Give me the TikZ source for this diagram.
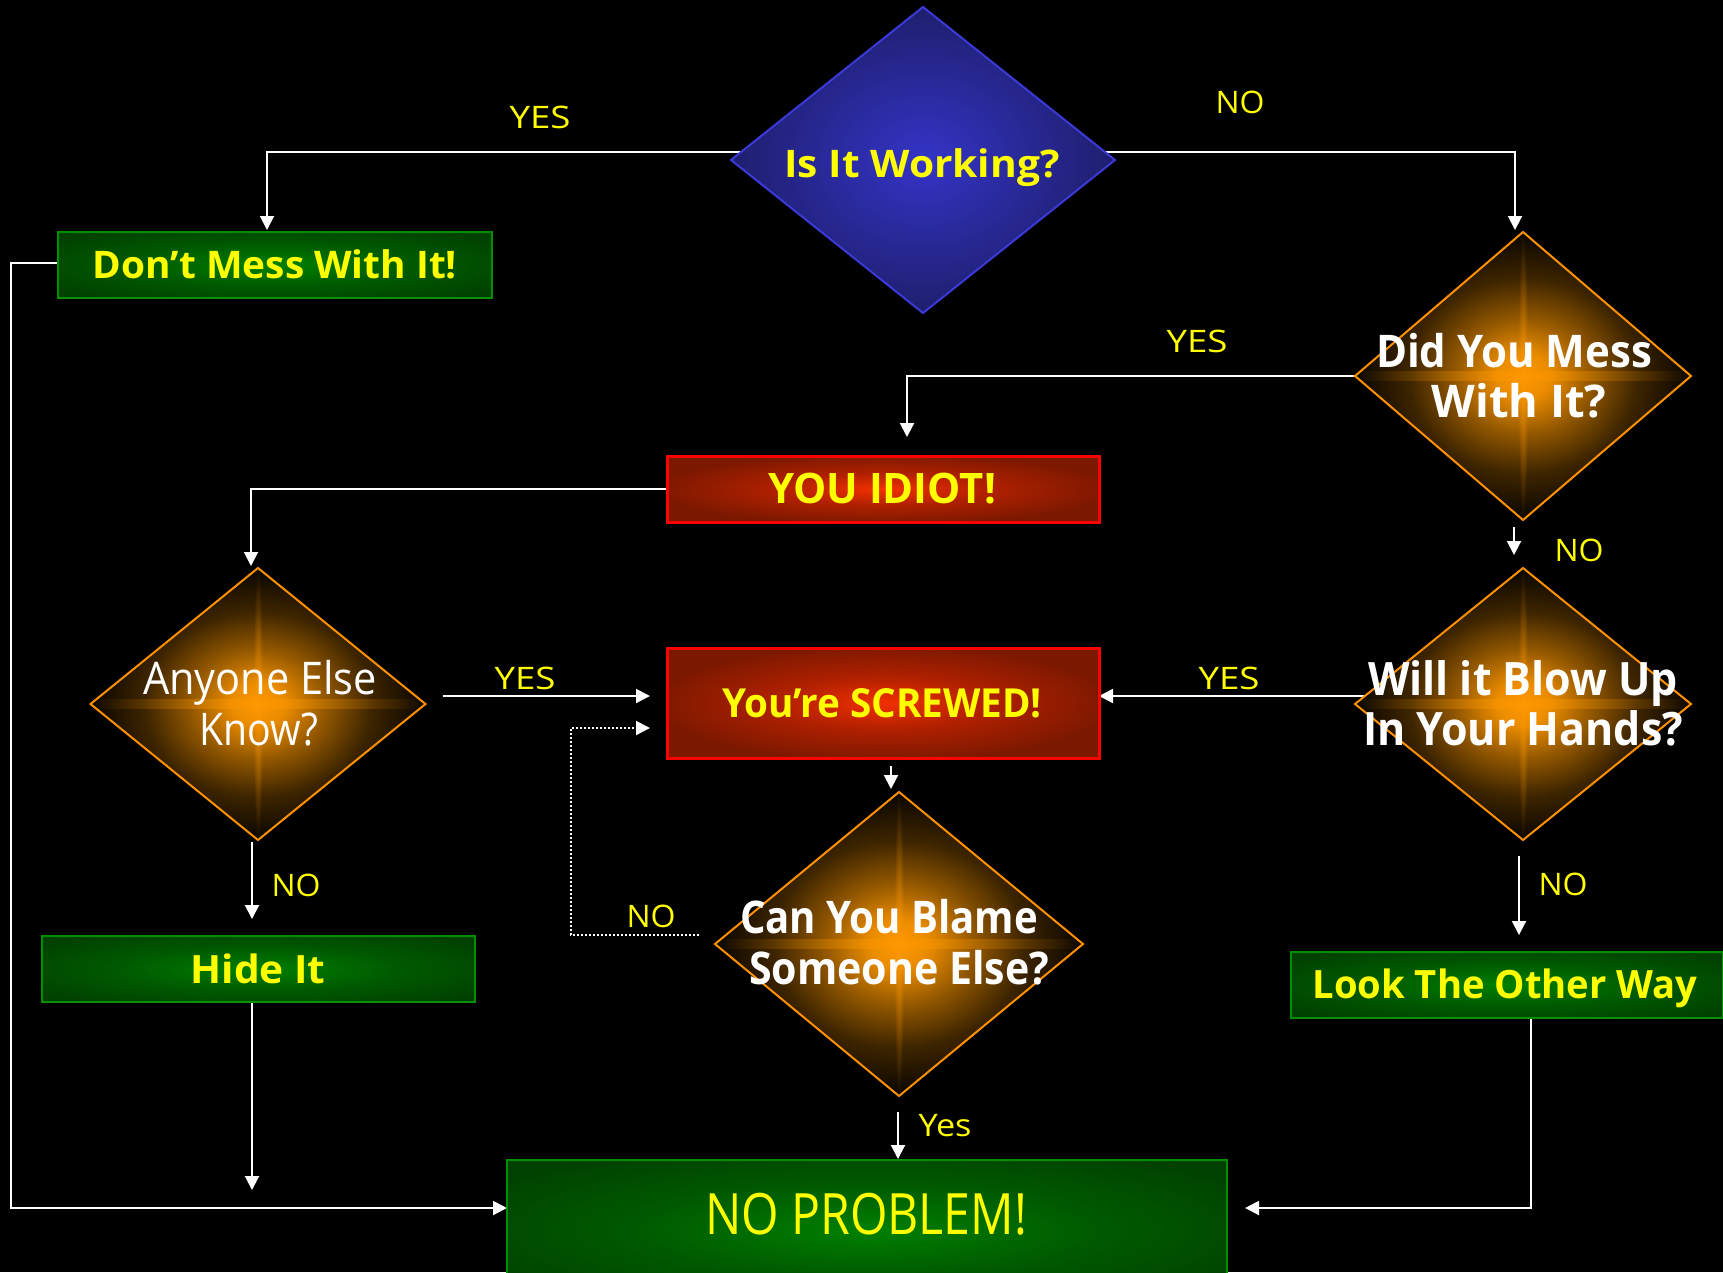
\documentclass[tikz,border=0pt]{standalone}
\usepackage{fontspec}
\setmainfont{Open Sans}
\usepackage{graphicx}
\usetikzlibrary{shapes.geometric,arrows.meta,calc,fadings}
\pgfdeclarelayer{bg}
\pgfdeclarelayer{edges}
\pgfsetlayers{bg,edges,main}
\definecolor{txtY}{HTML}{FFFF00}
\definecolor{orgC}{HTML}{FF9800}
\definecolor{orgB}{HTML}{FF9000}
\definecolor{blueC}{HTML}{3434C8}
\definecolor{blueE}{HTML}{1C1C62}
\definecolor{blueB}{HTML}{3A3AD8}
\definecolor{grnC}{HTML}{008000}
\definecolor{grnM}{HTML}{005A00}
\definecolor{grnE}{HTML}{004000}
\definecolor{grnB}{HTML}{009000}
\definecolor{redC}{HTML}{F23000}
\definecolor{redM}{HTML}{B02000}
\definecolor{redE}{HTML}{7A1800}
\pgfdeclareradialshading{orangeglow}{\pgfpoint{0bp}{0bp}}{color(0bp)=(orgC); color(4bp)=(orgC!92!black); color(10bp)=(orgC!58!black); color(17bp)=(orgC!24!black); color(24bp)=(orgC!6!black); color(29bp)=(black); color(50bp)=(black)}
\pgfdeclareradialshading{blueglow}{\pgfpoint{0bp}{0bp}}{color(0bp)=(blueC); color(28bp)=(blueE); color(50bp)=(blueE)}
\pgfdeclareradialshading{greenglow}{\pgfpoint{0bp}{0bp}}{color(0bp)=(grnC); color(16bp)=(grnM); color(32bp)=(grnE); color(50bp)=(grnE)}
\pgfdeclareradialshading{redglow}{\pgfpoint{0bp}{0bp}}{color(0bp)=(redC); color(12bp)=(redM); color(27bp)=(redE); color(50bp)=(redE)}
\tikzfading[name=glowfade, inner color=transparent!50, outer color=transparent!100]
\newcommand{\fitw}[2]{\resizebox{#1}{\height}{#2}}
\newcommand{\myfs}[1]{\fontsize{#1}{#1}\selectfont}
\tikzset{
  odiam/.style={diamond, draw=orgB, line width=2pt, inner sep=0pt, outer sep=0pt, shade, shading=orangeglow,
    path picture={
      \fill[orgC, path fading=glowfade] ($(path picture bounding box.west)+(0,-5)$) rectangle ($(path picture bounding box.east)+(0,5)$);
      \fill[orgC, path fading=glowfade] ($(path picture bounding box.north)+(-5,0)$) rectangle ($(path picture bounding box.south)+(5,0)$);
    }},
  bdiam/.style={diamond, draw=blueB, line width=2pt, inner sep=0pt, outer sep=0pt, shade, shading=blueglow},
  gbox/.style={rectangle, draw=grnB, line width=2pt, inner sep=0pt, outer sep=0pt, shade, shading=greenglow},
  rbox/.style={rectangle, draw=red, line width=3pt, inner sep=0pt, outer sep=0pt, shade, shading=redglow},
  ytext/.style={text=txtY, anchor=base, inner sep=0pt, outer sep=0pt},
  wtext/.style={text=white, anchor=base, inner sep=0pt, outer sep=0pt},
  lab/.style={text=txtY, anchor=base, inner sep=0pt, outer sep=0pt, font=\myfs{31}},
  arr/.style={draw=white, line width=2pt, -{Triangle[length=14pt,width=14pt]}},
  dotarr/.style={draw=white, line width=2pt, dash pattern=on 2pt off 2pt, -{Triangle[length=14pt,width=14pt]}}
}
\begin{document}
\begin{tikzpicture}[x=1pt,y=-1pt]
\useasboundingbox (0,0) rectangle (1723,1272);
\begin{pgfonlayer}{bg}
\fill[black] (0,0) rectangle (1723,1272);
\end{pgfonlayer}

% shapes
\node[bdiam, minimum width=384pt, minimum height=306pt] (work) at (923,160) {};
\node[odiam, minimum width=336pt, minimum height=288pt] (dym) at (1523,376) {};
\node[odiam, minimum width=336pt, minimum height=272pt] (blow) at (1523,704) {};
\node[odiam, minimum width=335pt, minimum height=272pt] (anyone) at (258,704) {};
\node[odiam, minimum width=368pt, minimum height=304pt] (blame) at (899,944) {};
\node[gbox, minimum width=434pt, minimum height=66pt] (dont) at (275,265) {};
\node[rbox, minimum width=432pt, minimum height=66pt] (idiot) at (883,489) {};
\node[rbox, minimum width=432pt, minimum height=110pt] (screwed) at (883,703) {};
\node[gbox, minimum width=433pt, minimum height=66pt] (hide) at (258,969) {};
\node[gbox, minimum width=432pt, minimum height=66pt] (look) at (1507,985) {};
\node[gbox, minimum width=720pt, minimum height=140pt] (noprob) at (867,1230) {};

% texts
\node[ytext, font=\myfs{38}\bfseries] (t-work) at (922,177) {\fitw{275pt}{Is It Working?}};
\node[ytext, font=\myfs{38}\bfseries] (t-dont) at (275,278) {\fitw{364pt}{Don't Mess With It!}};
\node[wtext, font=\myfs{45}\bfseries] (t-dym1) at (1514,367) {\fitw{276pt}{Did You Mess}};
\node[wtext, font=\myfs{45}\bfseries] (t-dym2) at (1519,417) {\fitw{175pt}{With It?}};
\node[ytext, font=\myfs{42}\bfseries] (t-idiot) at (882,503) {\fitw{228pt}{YOU IDIOT!}};
\node[ytext, font=\myfs{40}\bfseries] (t-screwed) at (882,717) {\fitw{320pt}{You're SCREWED!}};
\node[wtext, font=\myfs{45}\bfseries] (t-blame1) at (889,933) {\fitw{298pt}{Can You Blame}};
\node[wtext, font=\myfs{45}\bfseries] (t-blame2) at (899,984) {\fitw{300pt}{Someone Else?}};
\node[wtext, font=\myfs{46}\bfseries] (t-blow1) at (1523,695) {\fitw{310pt}{Will it Blow Up}};
\node[wtext, font=\myfs{46}\bfseries] (t-blow2) at (1523,745) {\fitw{320pt}{In Your Hands?}};
\node[wtext, font=\myfs{45}] (t-any1) at (260,694) {\fitw{234pt}{Anyone Else}};
\node[wtext, font=\myfs{45}] (t-any2) at (259,745) {\fitw{119pt}{Know?}};
\node[ytext, font=\myfs{39}\bfseries] (t-hide) at (258,983) {\fitw{135pt}{Hide It}};
\node[ytext, font=\myfs{39}\bfseries] (t-look) at (1505,998) {\fitw{385pt}{Look The Other Way}};
\node[ytext, font=\myfs{57}] (t-noprob) at (866,1234) {\fitw{322pt}{NO PROBLEM!}};

% labels
\node[lab] (l1) at (540,128) {\fitw{61pt}{YES}};
\node[lab] (l2) at (1240,113) {\fitw{49pt}{NO}};
\node[lab] (l3) at (1197,352) {\fitw{61pt}{YES}};
\node[lab] (l4) at (1579,561) {\fitw{49pt}{NO}};
\node[lab] (l5) at (525,689) {\fitw{61pt}{YES}};
\node[lab] (l6) at (1229,689) {\fitw{61pt}{YES}};
\node[lab] (l7) at (296,896) {\fitw{49pt}{NO}};
\node[lab] (l8) at (1563,895) {\fitw{49pt}{NO}};
\node[lab] (l9) at (651,927) {\fitw{49pt}{NO}};
\node[lab] (l10) at (945,1136) {\fitw{53pt}{Yes}};

\coordinate (hideend) at (252,1190);

% connectors
\begin{pgfonlayer}{edges}
\draw[arr] ($(work.center)+(0,-8)$) -| ($(dont.north)+(-8,-2)$);
\draw[arr] ($(work.center)+(0,-8)$) -| ($(dym.north)+(-8,-2)$);
\draw[arr] (dym.center) -| ($(idiot.north)+(24,-19)$);
\draw[arr] ($(dym.south)+(-9,7)$) -- ($(blow.north)+(-9,-13)$);
\draw[arr] (idiot.center) -| ($(anyone.north)+(-7,-2)$);
\draw[arr] ($(anyone.east)+(17,-8)$) -- ($(screwed.west)+(-17,-7)$);
\draw[arr] ($(blow.center)+(0,-8)$) -- ($(screwed.east)+(0,-7)$);
\draw[arr] ($(anyone.south)+(-6,2)$) -- ($(hide.north)+(-6,-17)$);
\draw[arr] ($(blow.south)+(-4,16)$) -- ($(look.north)+(12,-17)$);
\draw[arr] ($(screwed.south)+(8,8)$) -- ($(blame.north)+(-8,-3)$);
\draw[dotarr] ($(blame.west)+(-16,-9)$) -- ++(-128,0) |- ($(screwed.west)+(-17,25)$);
\draw[arr] ($(blame.south)+(-1,16)$) -- ($(noprob.north)+(31,-1)$);
\draw[arr] ($(hide.south)+(-6,0)$) -- (hideend);
\draw[arr] ($(dont.west)+(0,-2)$) -- ++(-47,0) |- ($(noprob.west)+(0,-22)$);
\draw[arr] ($(look.south)+(24,0)$) |- ($(noprob.east)+(18,-22)$);
\end{pgfonlayer}
\end{tikzpicture}
\end{document}
